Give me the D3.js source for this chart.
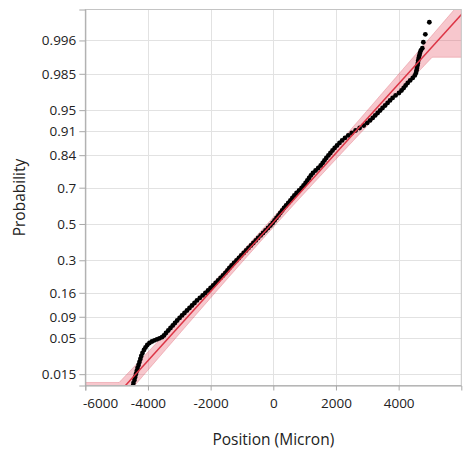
<!DOCTYPE html>
<html>
<head>
<meta charset="utf-8">
<script src="https://cdn.jsdelivr.net/npm/d3@7"></script>
<style>
  html, body { margin: 0; padding: 0; background: #fff; }
  svg text { font-family: "Segoe UI", "Open Sans", "Noto Sans", sans-serif; fill: #222; }
</style>
</head>
<body>
<svg id="chart" width="466" height="455"></svg>
<script>
// Probability ticks (normal quantile scale) and position ticks
const probTicks = [0.015, 0.05, 0.09, 0.16, 0.3, 0.5, 0.7, 0.84, 0.91, 0.95, 0.985, 0.996];
const positionTicks = [-6000, -4000, -2000, 0, 2000, 4000];

// Axis extents
const positionDomain = [-6000, 6000];
const probDomain = [0.0098, 0.99903];

// Sorted positions (Micron) and their normal scores
const positions = [
  -4478, -4462, -4430, -4408, -4383, -4357, -4332, -4300, -4271, -4242, -4213, -4175, -4127, -4079, -4022,
  -3952, -3872, -3792, -3712, -3632, -3553, -3489, -3425, -3352, -3281, -3208, -3138, -3068, -2991, -2914,
  -2835, -2755, -2675, -2595, -2515, -2436, -2346,
  -2256, -2169, -2084, -2002, -1920, -1841, -1763, -1684, -1605, -1530, -1464, -1402, -1332, -1254, -1175,
  -1097, -1024, -945, -867, -792, -712, -637, -559, -484, -404, -326, -248, -169, -93, -21, 41, 101, 164,
  223, 283, 342, 408, 477, 546, 608, 672, 741, 822, 901, 967, 1030, 1086, 1142, 1199, 1264, 1349, 1434,
  1513, 1576, 1632, 1691, 1758, 1823, 1889, 1958, 2034, 2112, 2197, 2288, 2393, 2503, 2626, 2756, 2886,
  2997, 3088, 3173, 3252, 3330, 3409, 3487, 3570, 3648, 3726, 3808, 3903, 4011, 4092, 4161, 4224, 4290,
  4368, 4450, 4517, 4553, 4571, 4586, 4601, 4616, 4627, 4642, 4660, 4681, 4709,
  4756, 4788, 4852, 4980
];
const normalScores = [
  -2.341, -2.298, -2.254, -2.211, -2.168, -2.124, -2.081, -2.038, -1.994, -1.951, -1.908, -1.864, -1.821, -1.785, -1.749,
  -1.720, -1.698, -1.681, -1.666, -1.652, -1.636, -1.611, -1.575, -1.539, -1.503, -1.467, -1.431, -1.395, -1.358, -1.322,
  -1.286, -1.250, -1.214, -1.178, -1.142, -1.105, -1.069,
  -1.033, -0.997, -0.961, -0.925, -0.889, -0.853, -0.816, -0.780, -0.744, -0.708, -0.672, -0.636, -0.600, -0.564, -0.527,
  -0.491, -0.455, -0.419, -0.383, -0.347, -0.311, -0.275, -0.238, -0.202, -0.166, -0.130, -0.094, -0.058, -0.022, 0.014, 0.051, 0.087, 0.123,
  0.159, 0.195, 0.231, 0.267, 0.303, 0.340, 0.376, 0.412, 0.448, 0.484, 0.520, 0.556, 0.592, 0.629, 0.665, 0.701, 0.737, 0.773, 0.809,
  0.845, 0.882, 0.918, 0.954, 0.990, 1.026, 1.062, 1.098, 1.134, 1.171, 1.207, 1.243, 1.279, 1.315, 1.351, 1.387, 1.423,
  1.460, 1.496, 1.532, 1.568, 1.604, 1.640, 1.676, 1.712, 1.749, 1.785, 1.821, 1.857, 1.893, 1.929, 1.965, 2.001, 2.038,
  2.074, 2.110, 2.146, 2.182, 2.218, 2.254, 2.290, 2.327, 2.363, 2.399, 2.435, 2.471, 2.507,
  2.539, 2.626, 2.741, 2.915
];

// Normal fit and its confidence band
const fitMean = -50;
const fitSD = 2000;
const bandHalfWidth = 144;      // Micron, at the median
const bandFloorProb = 0.011;
const bandCeilProb = 0.992;

// Inverse standard normal CDF (Acklam)
function probit(p) {
  const a = [-3.969683028665376e+01, 2.209460984245205e+02, -2.759285104469687e+02, 1.383577518672690e+02, -3.066479806614716e+01, 2.506628277459239e+00];
  const b = [-5.447609879822406e+01, 1.615858368580409e+02, -1.556989798598866e+02, 6.680131188771972e+01, -1.328068155288572e+01];
  const c = [-7.784894002430293e-03, -3.223964580411365e-01, -2.400758277161838e+00, -2.549732539343734e+00, 4.374664141464968e+00, 2.938163982698783e+00];
  const d = [7.784695709041462e-03, 3.224671290700398e-01, 2.445134137142996e+00, 3.754408661907416e+00];
  const pl = 0.02425, ph = 1 - pl;
  let q, r;
  if (p < pl) {
    q = Math.sqrt(-2 * Math.log(p));
    return (((((c[0]*q+c[1])*q+c[2])*q+c[3])*q+c[4])*q+c[5]) / ((((d[0]*q+d[1])*q+d[2])*q+d[3])*q+1);
  }
  if (p > ph) {
    q = Math.sqrt(-2 * Math.log(1 - p));
    return -(((((c[0]*q+c[1])*q+c[2])*q+c[3])*q+c[4])*q+c[5]) / ((((d[0]*q+d[1])*q+d[2])*q+d[3])*q+1);
  }
  q = p - 0.5; r = q * q;
  return (((((a[0]*r+a[1])*r+a[2])*r+a[3])*r+a[4])*r+a[5])*q / (((((b[0]*r+b[1])*r+b[2])*r+b[3])*r+b[4])*r+1);
}

const plot = { left: 85.3, right: 461.3, top: 9.5, bottom: 385.5 };
const svg = d3.select("#chart");

const x = d3.scaleLinear().domain(positionDomain).range([plot.left, plot.right]);
const zLow = probit(probDomain[0]);
const zHigh = probit(probDomain[1]);
const y = d3.scaleLinear().domain([zLow, zHigh]).range([plot.bottom, plot.top]);

svg.append("defs").append("clipPath").attr("id", "plotClip")
  .append("rect")
  .attr("x", plot.left).attr("y", plot.top)
  .attr("width", plot.right - plot.left).attr("height", plot.bottom - plot.top);

// Grid
const grid = svg.append("g").attr("stroke", "#e2e2e2").attr("stroke-width", 1);
probTicks.forEach(p => {
  const yy = Math.round(y(probit(p))) + 0.5;
  grid.append("line").attr("x1", plot.left).attr("x2", plot.right).attr("y1", yy).attr("y2", yy);
});
positionTicks.forEach(v => {
  const xx = Math.round(x(v)) + 0.5;
  grid.append("line").attr("x1", xx).attr("x2", xx).attr("y1", plot.top).attr("y2", plot.bottom);
});

const area = svg.append("g").attr("clip-path", "url(#plotClip)");

// Confidence band around the fitted quantile line
const fitX = z => fitMean + fitSD * z;
const halfW = z => bandHalfWidth * Math.sqrt(1 + z * z / 1.7);
const zFloor = probit(bandFloorProb);
const zCeil = probit(bandCeilProb);
const zA = zLow - 0.4, zB = zHigh + 0.4;
const bandPts = [];
bandPts.push([positionDomain[0] - 500, zA]);
bandPts.push([positionDomain[0] - 500, zFloor]);
for (let z = zFloor; z <= zB; z += 0.02) bandPts.push([fitX(z) - halfW(z), z]);
bandPts.push([fitX(zB) - halfW(zB), zB]);
bandPts.push([positionDomain[1] + 500, zB]);
bandPts.push([positionDomain[1] + 500, zCeil]);
for (let z = zCeil; z >= zA; z -= 0.02) bandPts.push([fitX(z) + halfW(z), z]);
bandPts.push([fitX(zA) + halfW(zA), zA]);

area.append("path")
  .attr("d", d3.line().x(d => x(d[0])).y(d => y(d[1]))(bandPts) + "Z")
  .attr("fill", "rgba(228, 70, 88, 0.30)")
  .attr("stroke", "rgba(215, 70, 85, 0.35)")
  .attr("stroke-width", 0.8);

// Data points
const n = Math.min(positions.length, normalScores.length);
area.append("g").selectAll("circle")
  .data(d3.range(n))
  .join("circle")
  .attr("cx", i => x(positions[i]))
  .attr("cy", i => y(normalScores[i]))
  .attr("r", 2.4)
  .attr("fill", "#000");

// Fitted normal line
area.append("path")
  .attr("d", d3.line().x(d => x(fitX(d))).y(d => y(d))([zA, zB]))
  .attr("stroke", "#dc3545")
  .attr("stroke-width", 1.5)
  .attr("fill", "none");

// Frame
svg.append("rect")
  .attr("x", plot.left).attr("y", plot.top)
  .attr("width", plot.right - plot.left).attr("height", plot.bottom - plot.top)
  .attr("fill", "none").attr("stroke", "#c4c4c4").attr("stroke-width", 1);

// Axes
const yAxis = d3.axisLeft(y)
  .tickValues(probTicks.map(probit))
  .tickFormat((d, i) => String(probTicks[i]))
  .tickSize(6).tickPadding(3);
const gy = svg.append("g").attr("transform", `translate(${plot.left},0)`).call(yAxis);
gy.select(".domain").attr("stroke", "#a8a8a8");
gy.selectAll(".tick line").attr("stroke", "#a8a8a8");
gy.selectAll(".tick text").attr("font-size", "13.5px").attr("fill", "#222");

const xAxis = d3.axisBottom(x)
  .tickValues(positionTicks)
  .tickFormat(d => String(d))
  .tickSize(5).tickPadding(8);
const gx = svg.append("g").attr("transform", `translate(0,${plot.bottom})`).call(xAxis);
gx.select(".domain").attr("stroke", "#a8a8a8");
gx.selectAll(".tick line").attr("stroke", "#a8a8a8");
gx.selectAll(".tick text").attr("font-size", "13.5px").attr("fill", "#222");
// first label sits just inside the left edge
gx.selectAll(".tick text").filter(d => d === positionDomain[0]).attr("x", 14.7);

svg.selectAll(".tick text").style("font-family", "'Segoe UI', 'Open Sans', 'Noto Sans', sans-serif");

// Axis titles
svg.append("text")
  .attr("x", (plot.left + plot.right) / 2).attr("y", 445)
  .attr("text-anchor", "middle")
  .attr("font-size", "15.5px")
  .text("Position (Micron)");

svg.append("text")
  .attr("transform", `translate(25,${(plot.top + plot.bottom) / 2}) rotate(-90)`)
  .attr("text-anchor", "middle")
  .attr("font-size", "15.5px")
  .text("Probability");
</script>
</body>
</html>
